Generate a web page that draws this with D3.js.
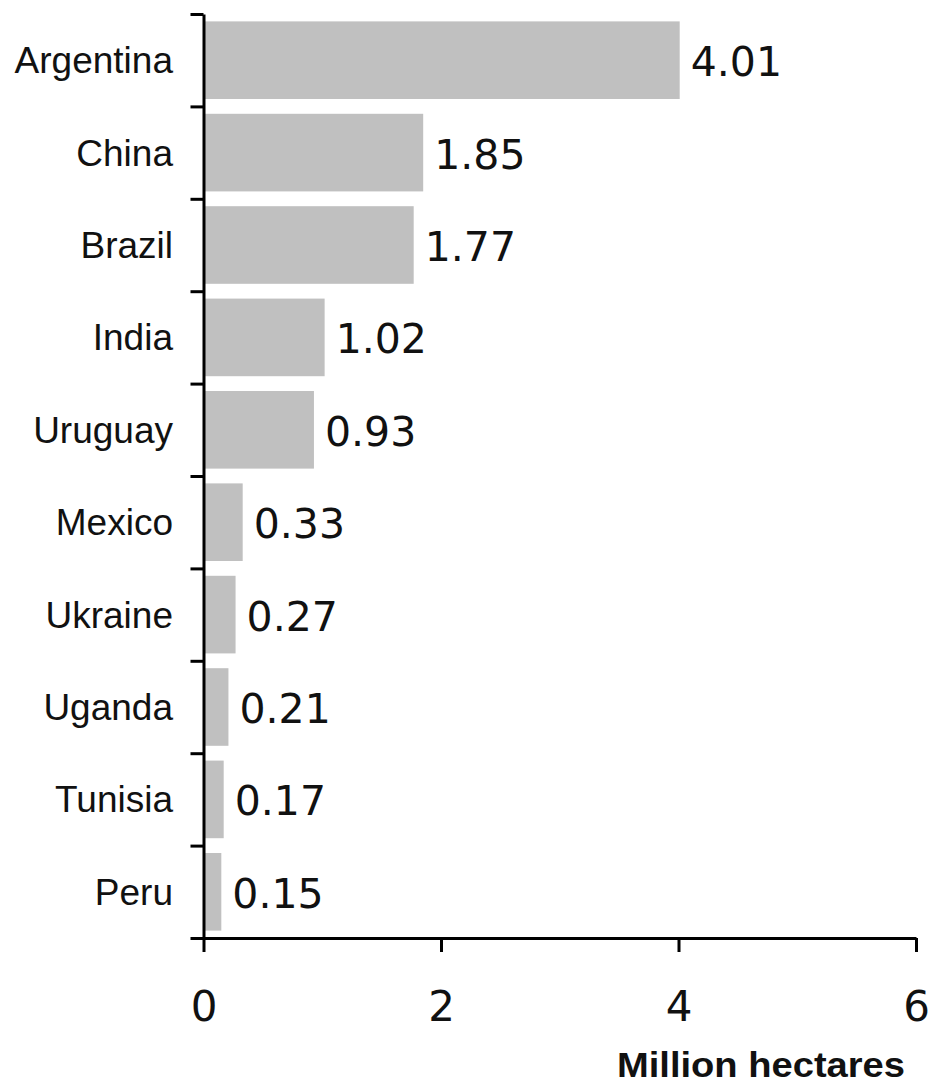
<!DOCTYPE html>
<html><head><meta charset="utf-8">
<script src="https://cdn.jsdelivr.net/npm/d3@7"></script>
<style>body{margin:0;background:#fff}</style>
</head><body>
<script>
const categories = ["Argentina","China","Brazil","India","Uruguay","Mexico","Ukraine","Uganda","Tunisia","Peru"];
const values = [4.01,1.85,1.77,1.02,0.93,0.33,0.27,0.21,0.17,0.15];
const valueLabels = ["4.01","1.85","1.77","1.02","0.93","0.33","0.27","0.21","0.17","0.15"];
const xTicks = [0,2,4,6];
const xTitle = "Million hectares";

const W = 932, H = 1085;
const m = {left:203.5, top:14, right:16, bottom:147};
const svg = d3.select("body").append("svg").attr("width",W).attr("height",H);
const x = d3.scaleLinear().domain([0,6]).range([m.left, W-m.right]);
const y = d3.scaleBand().domain(categories).range([m.top, H-m.bottom]).paddingInner(0.16).paddingOuter(0.08);
const yIdx = d3.scaleLinear().domain([0,categories.length]).range([m.top, H-m.bottom]);

svg.append("g").selectAll("rect").data(categories).join("rect")
  .attr("x", x(0)+1.5).attr("y", d=>y(d))
  .attr("width", (d,i)=>x(values[i])-x(0)-1.5).attr("height", y.bandwidth())
  .attr("fill","#c0c0c0");

// value labels
svg.append("g").selectAll("text").data(categories).join("text")
  .attr("x", (d,i)=>x(values[i])+11).attr("y", d=>y(d)+y.bandwidth()/2+16)
  .attr("font-family","DejaVu Sans").attr("font-size",41).attr("fill","#111")
  .text((d,i)=>valueLabels[i]);

// y axis (ticks at band boundaries)
const gy = svg.append("g").attr("transform",`translate(${x(0)},0)`)
  .call(d3.axisLeft(yIdx).tickValues(d3.range(categories.length+1)).tickSize(13).tickSizeOuter(0).tickFormat(""));
gy.selectAll("path,line").attr("stroke","#000").attr("stroke-width",3);

// category labels
svg.append("g").selectAll("text").data(categories).join("text")
  .attr("x", 173).attr("y", d=>y(d)+y.bandwidth()/2+13)
  .attr("text-anchor","end")
  .attr("font-family","Liberation Sans").attr("font-size",37).attr("fill","#111")
  .text(d=>d);

// x axis
const gx = svg.append("g").attr("transform",`translate(0,${H-m.bottom})`)
  .call(d3.axisBottom(x).tickValues(xTicks).tickSize(14).tickSizeOuter(0).tickFormat(d3.format("d")));
gx.selectAll("path,line").attr("stroke","#000").attr("stroke-width",3);
gx.selectAll("text").attr("y",83).attr("dy",0)
  .attr("font-family","DejaVu Sans").attr("font-size",42).attr("fill","#111");

svg.append("text").attr("x",905).attr("y",1077).attr("text-anchor","end")
  .attr("font-family","Liberation Sans").attr("font-weight","bold").attr("font-size",35)
  .attr("textLength",288).attr("lengthAdjust","spacingAndGlyphs")
  .attr("fill","#111").text(xTitle);
</script>
</body></html>
